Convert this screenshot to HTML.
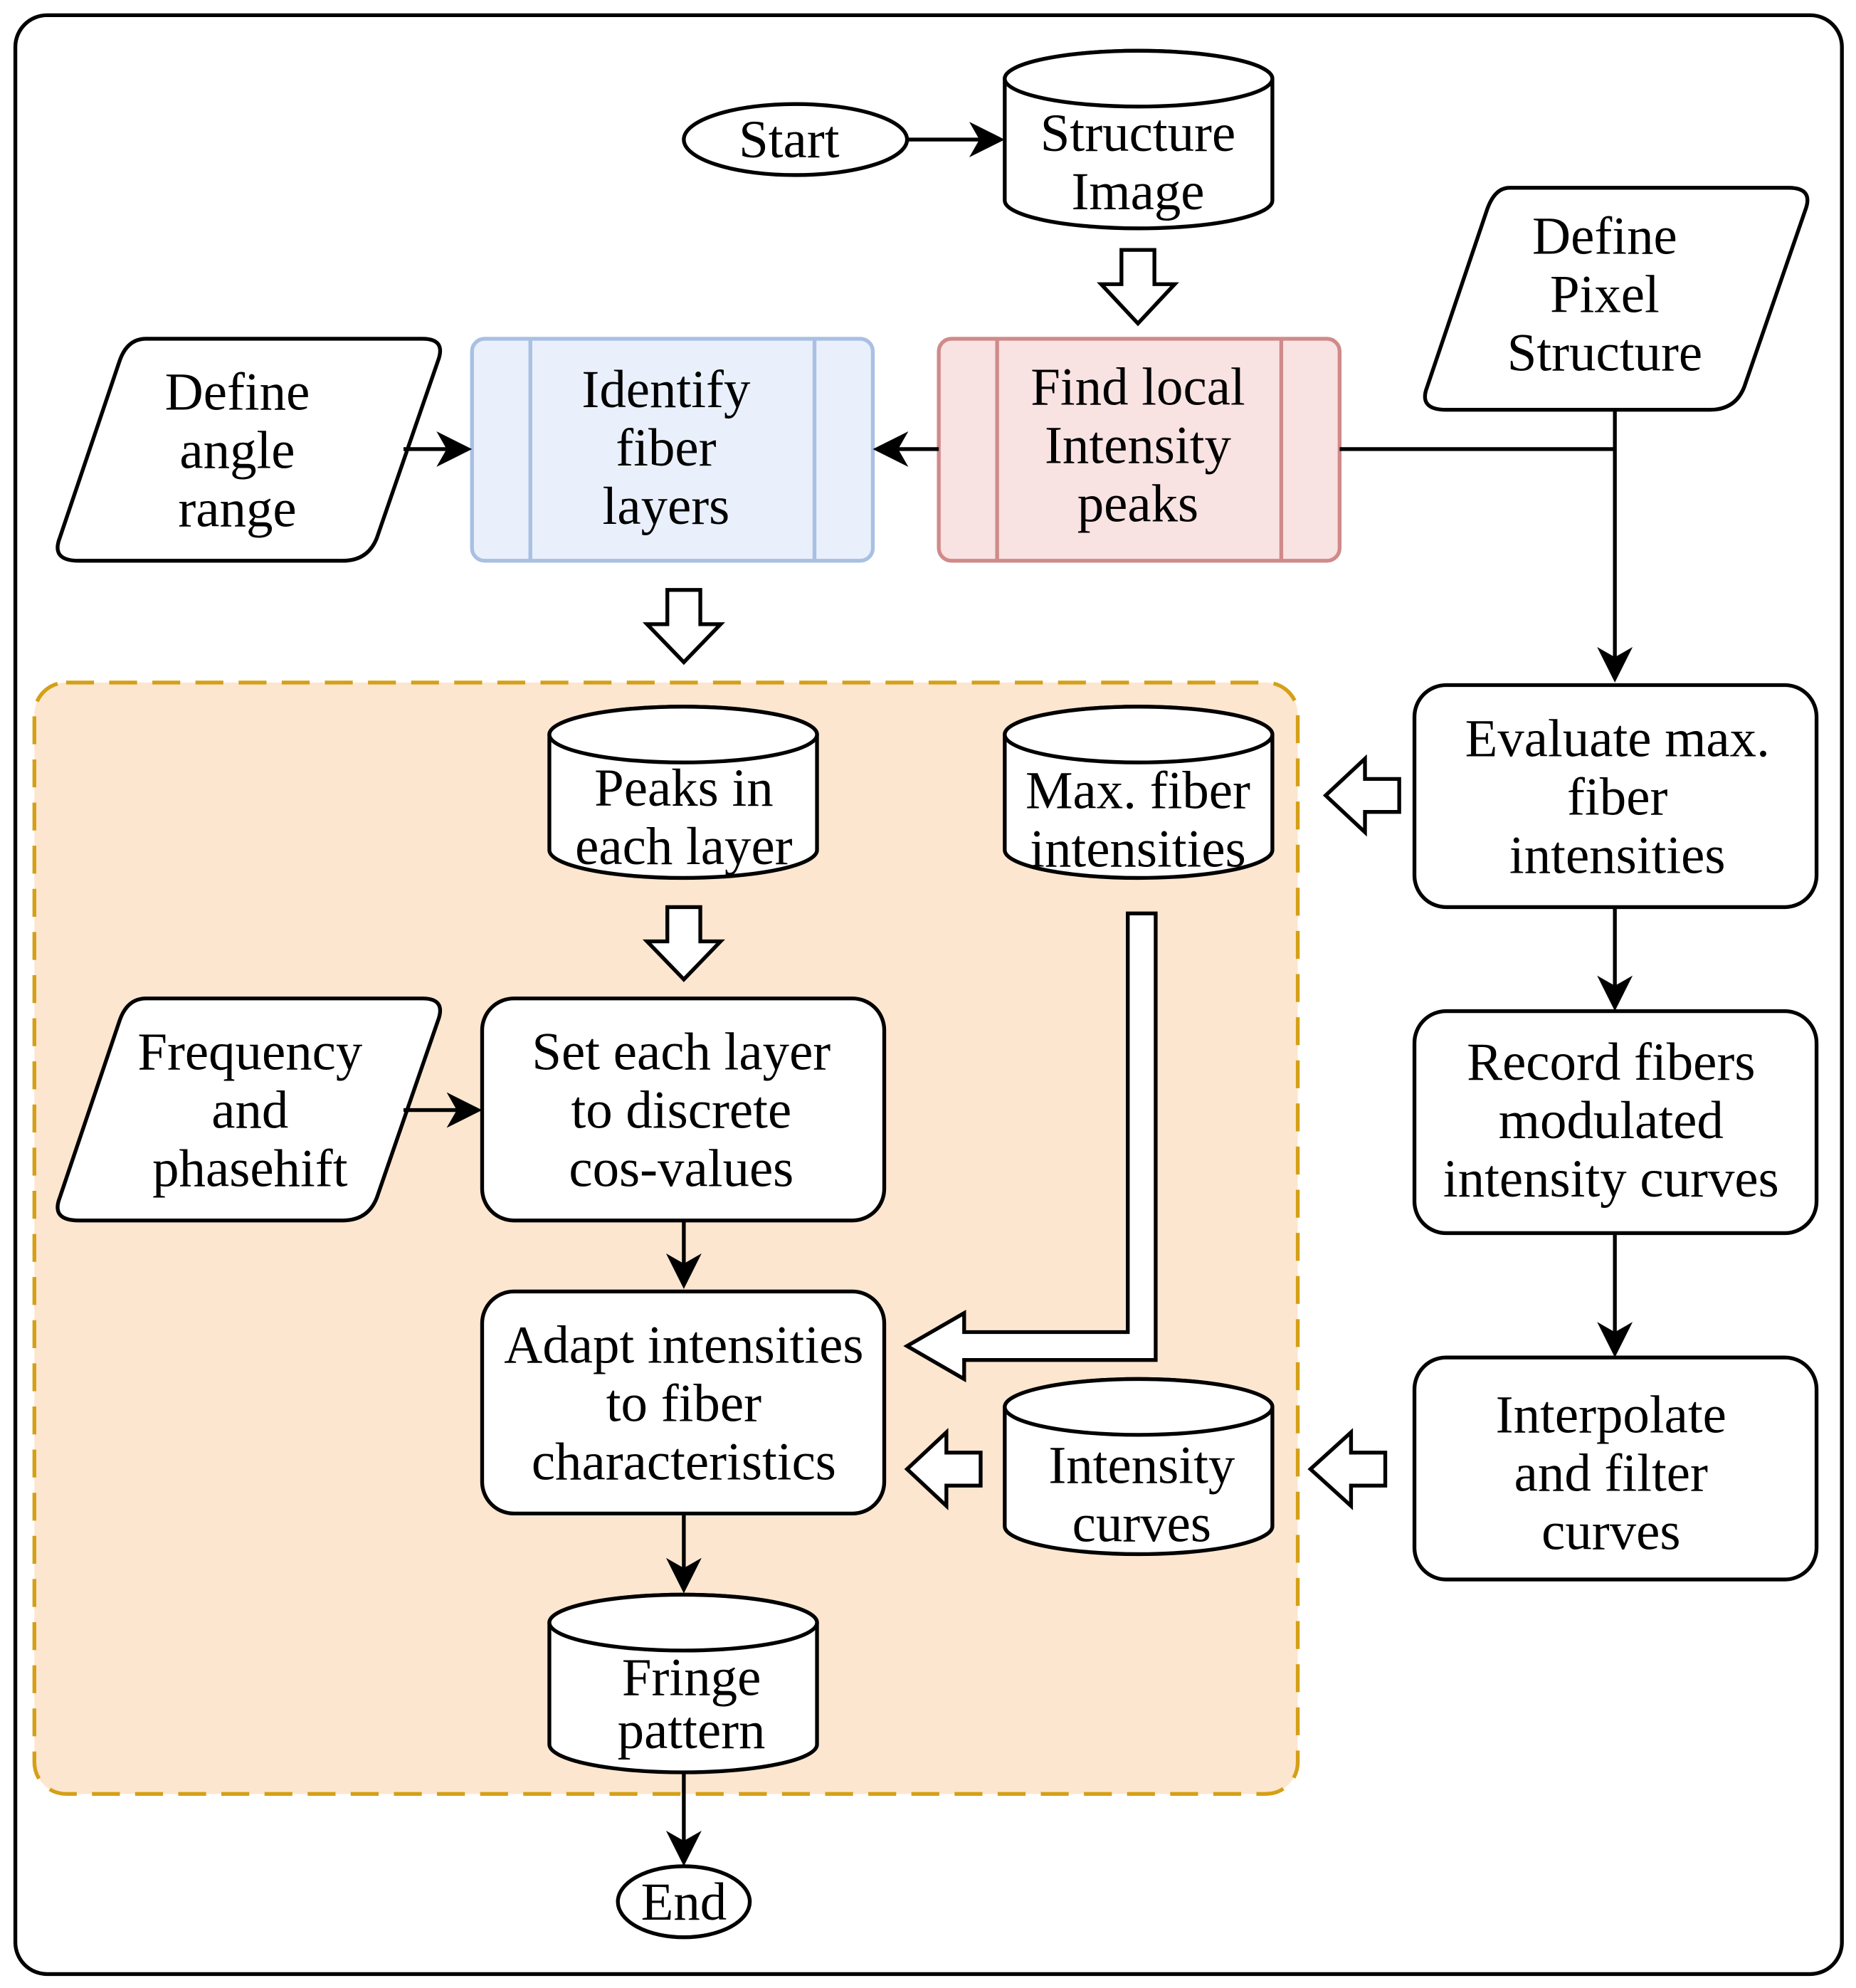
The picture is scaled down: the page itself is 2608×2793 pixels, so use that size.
<!DOCTYPE html>
<html><head><meta charset="utf-8"><style>
html,body{margin:0;padding:0;background:#fff}
svg{display:block}
text{font-family:"Liberation Serif",serif;font-size:42px;text-anchor:middle;fill:#000}
</style></head><body>
<svg width="2608" height="2793" viewBox="0 0 1463 1567" xmlns="http://www.w3.org/2000/svg">
<g fill="none" stroke="#000" stroke-width="3">
<rect x="12" y="12" width="1440" height="1544" rx="25" fill="#fff"/>
<rect x="27" y="538" width="996" height="876" rx="25" fill="#fde6cf" stroke="#d4a017" stroke-dasharray="22,12"/>
</g>
<g stroke="#000" stroke-width="3" fill="#fff">
<ellipse cx="627" cy="110" rx="88" ry="28"/>
<ellipse cx="539" cy="1499" rx="52" ry="28"/>
<!-- cylinders -->
<path d="M792,62 A105.5,22 0 0 1 1003,62 V158 A105.5,22 0 0 1 792,158 Z"/><ellipse cx="897.5" cy="62" rx="105.5" ry="22"/>
<path d="M433,579 A105.5,22 0 0 1 644,579 V670 A105.5,22 0 0 1 433,670 Z"/><ellipse cx="538.5" cy="579" rx="105.5" ry="22"/>
<path d="M792,579 A105.5,22 0 0 1 1003,579 V670 A105.5,22 0 0 1 792,670 Z"/><ellipse cx="897.5" cy="579" rx="105.5" ry="22"/>
<path d="M792,1109 A105.5,22 0 0 1 1003,1109 V1203 A105.5,22 0 0 1 792,1203 Z"/><ellipse cx="897.5" cy="1109" rx="105.5" ry="22"/>
<path d="M433,1279 A105.5,22 0 0 1 644,1279 V1375 A105.5,22 0 0 1 433,1375 Z"/><ellipse cx="538.5" cy="1279" rx="105.5" ry="22"/>
<!-- parallelograms -->
<path d="M1190,148 H1410 Q1430,148 1423,166 L1375,305 Q1368,323 1348,323 H1140 Q1118,323 1125,305 L1172,166 Q1178,148 1190,148 Z"/>
<path d="M115,267 H333 Q352,267 345,285 L297,424 Q290,442 270,442 H62 Q40,442 47,424 L94,285 Q100,267 115,267 Z"/>
<path d="M115,787 H333 Q352,787 345,805 L297,944 Q290,962 270,962 H62 Q40,962 47,944 L94,805 Q100,787 115,787 Z"/>
<!-- process boxes -->
<rect x="740" y="267" width="316" height="175" rx="10" fill="#f8e2e2" stroke="#d08a8a"/>
<line x1="786" y1="267" x2="786" y2="442" stroke="#d08a8a"/>
<line x1="1010" y1="267" x2="1010" y2="442" stroke="#d08a8a"/>
<rect x="372" y="267" width="316" height="175" rx="10" fill="#e9f0fb" stroke="#a9c0e2"/>
<line x1="418" y1="267" x2="418" y2="442" stroke="#a9c0e2"/>
<line x1="642" y1="267" x2="642" y2="442" stroke="#a9c0e2"/>
<rect x="1115" y="540" width="317" height="175" rx="25"/>
<rect x="1115" y="797" width="317" height="175" rx="25"/>
<rect x="1115" y="1070" width="317" height="175" rx="25"/>
<rect x="380" y="787" width="317" height="175" rx="25"/>
<rect x="380" y="1018" width="317" height="175" rx="25"/>
<!-- hollow arrows -->
<path d="M884,197 H910 V224 H926 L897,255 L868,224 H884 Z"/>
<path d="M526,465 H552 V492 H568 L539,522 L510,492 H526 Z"/>
<path d="M526,715 H552 V742 H568 L539,772 L510,742 H526 Z"/>
<path d="M1103,614 V640 H1076 V656 L1045,627 L1076,598 V614 Z"/>
<path d="M1092,1145 V1171 H1065 V1187 L1033,1158 L1065,1129 V1145 Z"/>
<path d="M773,1145 V1171 H746 V1187 L715,1158 L746,1129 V1145 Z"/>
<path d="M889,720 H911 V1072 H760 V1087 L715,1061 L760,1035 V1050 H889 Z"/>
</g>
<g stroke="#000" stroke-width="3" fill="none">
<line x1="715" y1="110" x2="780" y2="110"/>
<line x1="740" y1="354" x2="700" y2="354"/>
<polyline points="1056,354 1273,354"/>
<line x1="1273" y1="323" x2="1273" y2="526"/>
<line x1="318" y1="354" x2="360" y2="354"/>
<line x1="1273" y1="715" x2="1273" y2="785"/>
<line x1="1273" y1="972" x2="1273" y2="1058"/>
<line x1="318" y1="875" x2="368" y2="875"/>
<line x1="539" y1="962" x2="539" y2="1004"/>
<line x1="539" y1="1193" x2="539" y2="1244"/>
<line x1="539" y1="1397" x2="539" y2="1459"/>
</g>
<g fill="#000">
<path d="M792,110 L764,96 L772,110 L764,124 Z"/>
<path d="M688,354 L716,340 L708,354 L716,368 Z"/>
<path d="M1273,538 L1259,510 L1273,518 L1287,510 Z"/>
<path d="M372,354 L344,340 L352,354 L344,368 Z"/>
<path d="M1273,797 L1259,769 L1273,777 L1287,769 Z"/>
<path d="M1273,1070 L1259,1042 L1273,1050 L1287,1042 Z"/>
<path d="M380,875 L352,861 L360,875 L352,889 Z"/>
<path d="M539,1016 L525,988 L539,996 L553,988 Z"/>
<path d="M539,1256 L525,1228 L539,1236 L553,1228 Z"/>
<path d="M539,1471 L525,1443 L539,1451 L553,1443 Z"/>
</g>
<text x="622" y="124">Start</text>
<text x="539" y="1513">End</text>
<text x="897" y="119">Structure</text>
<text x="897" y="165">Image</text>
<text x="1265" y="200">Define</text>
<text x="1265" y="246">Pixel</text>
<text x="1265" y="292">Structure</text>
<text x="897" y="319">Find local</text>
<text x="897" y="365">Intensity</text>
<text x="897" y="411">peaks</text>
<text x="525" y="321">Identify</text>
<text x="525" y="367">fiber</text>
<text x="525" y="413">layers</text>
<text x="187" y="323">Define</text>
<text x="187" y="369">angle</text>
<text x="187" y="415">range</text>
<text x="539" y="635">Peaks in</text>
<text x="539" y="681">each layer</text>
<text x="897" y="637">Max. fiber</text>
<text x="897" y="683">intensities</text>
<text x="1275" y="596">Evaluate max.</text>
<text x="1275" y="642">fiber</text>
<text x="1275" y="688">intensities</text>
<text x="1270" y="851">Record fibers</text>
<text x="1270" y="897">modulated</text>
<text x="1270" y="943">intensity curves</text>
<text x="1270" y="1129">Interpolate</text>
<text x="1270" y="1175">and filter</text>
<text x="1270" y="1221">curves</text>
<text x="197" y="843">Frequency</text>
<text x="197" y="889">and</text>
<text x="197" y="935">phasehift</text>
<text x="537" y="843">Set each layer</text>
<text x="537" y="889">to discrete</text>
<text x="537" y="935">cos-values</text>
<text x="539" y="1074">Adapt intensities</text>
<text x="539" y="1120">to fiber</text>
<text x="539" y="1166">characteristics</text>
<text x="900" y="1169">Intensity</text>
<text x="900" y="1215">curves</text>
<text x="545" y="1336">Fringe</text>
<text x="545" y="1378">pattern</text>
</svg>
</body></html>
